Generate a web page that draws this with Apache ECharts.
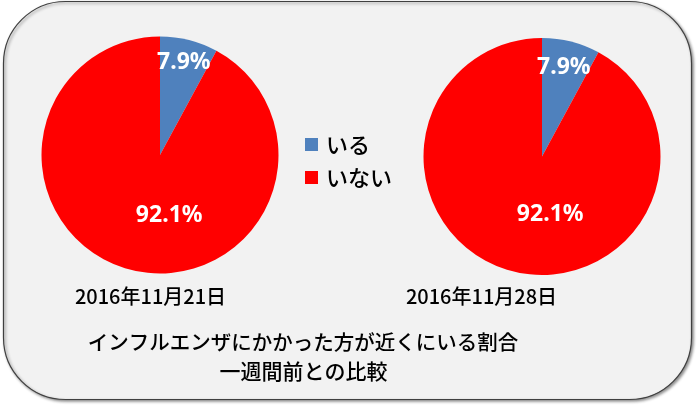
<!DOCTYPE html>
<html><head><meta charset="utf-8">
<script src="https://cdn.jsdelivr.net/npm/echarts@6/dist/echarts.min.js"></script>
<style>html,body{margin:0;padding:0;background:#fff}#c{width:700px;height:407px}</style>
</head><body><div id="c"></div>
<script>
const categories = ['いる', 'いない'];
const values1121 = [7.9, 92.1];
const values1128 = [7.9, 92.1];
const dateLabels = ['2016年11月21日', '2016年11月28日'];
const titleLines = ['インフルエンザにかかった方が近くにいる割合', '一週間前との比較'];
const colors = ['#4f81bd', '#ff0000'];

const FONT = '"Noto Sans CJK JP", "Noto Sans", sans-serif';
const chart = echarts.init(document.getElementById('c'), null, {renderer: 'canvas'});

function makePie(vals, center, offsets) {
  return {
    type: 'pie',
    center: center,
    radius: 118.5,
    startAngle: 90,
    clockwise: true,
    silent: true,
    label: {
      show: true,
      position: 'inside',
      formatter: p => p.value.toFixed(1) + '%',
      color: '#fff',
      fontWeight: 'bold',
      fontSize: 23,
      fontFamily: '"Noto Sans", "DejaVu Sans", sans-serif'
    },
    labelLine: {show: false},
    itemStyle: {borderWidth: 0},
    emphasis: {disabled: true},
    data: categories.map((n, i) => ({
      name: n, value: vals[i],
      itemStyle: {color: colors[i]},
      label: {offset: offsets[i]}
    }))
  };
}

const TXT = {fontFamily: FONT, fontWeight: 500, fill: '#000', align: 'center', verticalAlign: 'middle'};

chart.setOption({
  animation: false,
  backgroundColor: '#ffffff',
  graphic: [
    {type: 'rect', z: -10, shape: {x: 3.5, y: 1.5, width: 688, height: 398, r: 62},
     style: {fill: '#f2f2f2', stroke: '#404040', lineWidth: 1.2,
             shadowBlur: 3, shadowOffsetX: 1.5, shadowOffsetY: 1.5, shadowColor: 'rgba(0,0,0,0.45)'}},
    {type: 'text', x: 150.5, y: 296, style: Object.assign({text: dateLabels[0], fontSize: 20}, TXT)},
    {type: 'text', x: 481.5, y: 296, style: Object.assign({text: dateLabels[1], fontSize: 20}, TXT)},
    {type: 'text', x: 303, y: 342, style: Object.assign({text: titleLines[0], fontSize: 20.5}, TXT)},
    {type: 'text', x: 303.5, y: 371, style: Object.assign({text: titleLines[1], fontSize: 21}, TXT)}
  ],
  legend: {
    orient: 'vertical',
    left: 300, top: 128,
    itemWidth: 13, itemHeight: 13,
    itemGap: 10,
    icon: 'rect',
    selectedMode: false,
    data: categories,
    textStyle: {fontSize: 22, fontFamily: FONT, fontWeight: 500, color: '#000', padding: [0, 0, 0, 3], lineHeight: 23}
  },
  series: [
    makePie(values1121, [160, 155], [[8.5, -32], [24.5, 0]]),
    makePie(values1128, [542, 156.5], [[6.5, -29], [23.5, -2]])
  ]
});
</script></body></html>
